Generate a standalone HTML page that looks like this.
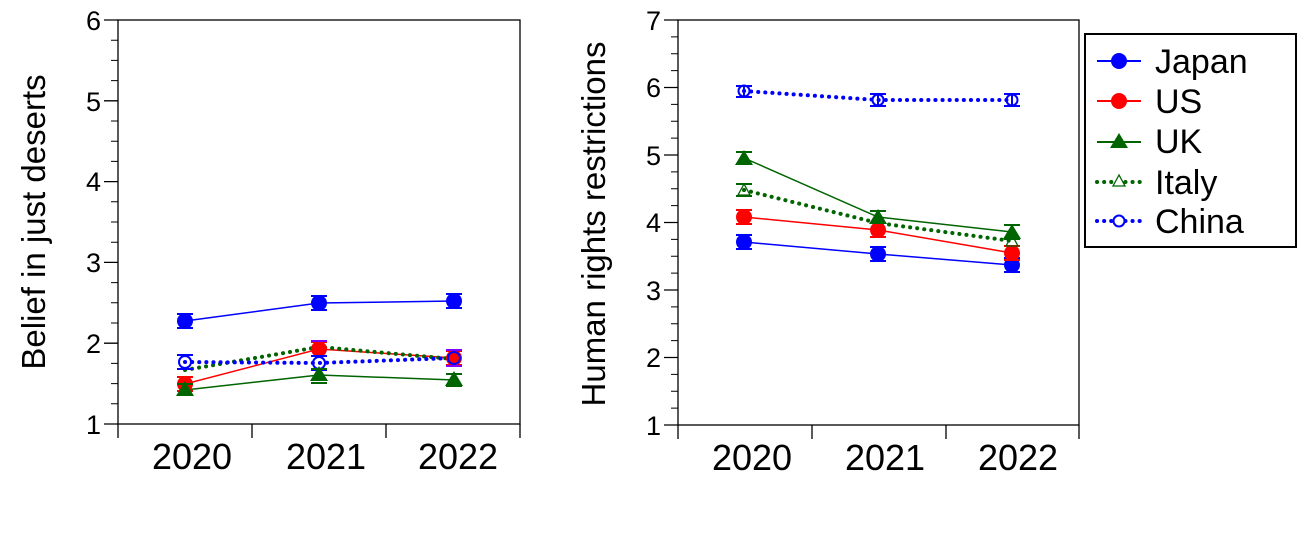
<!DOCTYPE html>
<html><head><meta charset="utf-8"><style>body{margin:0;background:#fff}svg{display:block}text{font-family:"Liberation Sans",sans-serif;fill:#000}</style></head>
<body>
<svg width="1298" height="536" xmlns="http://www.w3.org/2000/svg">
<!-- LEFT PLOT -->
<g stroke="#000" stroke-width="1.3" fill="none">
<rect x="118" y="20" width="402" height="404"/>
<line x1="118" y1="424" x2="118" y2="438"/><line x1="252" y1="424" x2="252" y2="438"/><line x1="386" y1="424" x2="386" y2="438"/><line x1="520" y1="424" x2="520" y2="438"/>
<path d="M104 20H118M104 100.8H118M104 181.6H118M104 262.4H118M104 343.2H118M104 424H118"/>
<path d="M111 40.2H118M111 60.4H118M111 80.6H118M111 121H118M111 141.2H118M111 161.4H118M111 201.8H118M111 222H118M111 242.2H118M111 282.6H118M111 302.8H118M111 323H118M111 363.4H118M111 383.6H118M111 403.8H118" stroke-width="1"/>
</g>
<g font-size="27" text-anchor="end">
<text x="101" y="30">6</text><text x="101" y="111">5</text><text x="101" y="191">4</text><text x="101" y="272">3</text><text x="101" y="353">2</text><text x="101" y="434">1</text>
</g>
<g font-size="36" text-anchor="middle"><text x="192" y="469">2020</text><text x="326" y="469">2021</text><text x="458" y="469">2022</text></g>
<text transform="translate(45,222) rotate(-90)" font-size="33" text-anchor="middle">Belief in just deserts</text>
<g stroke-width="1.5">
<polyline points="185,390 319,375 454,380" fill="none" stroke="#006400"/>
<polyline points="185,384 319,349 454,358" fill="none" stroke="#ff0000"/>
<polyline points="185,370 319,347 454,359" fill="none" stroke="#006400" stroke-width="4" stroke-dasharray="0.1 7" stroke-linecap="round"/>
<polyline points="185,362 319,363 454,358" fill="none" stroke="#0000ff" stroke-width="4" stroke-dasharray="0.1 7" stroke-linecap="round"/>
<polyline points="185,321 319,303 454,301" fill="none" stroke="#0000ff"/>
<g stroke="#0000ff" stroke-width="2"><path d="M177 314H193M177 328H193M185 314V328M311 296H327M311 310H327M319 296V310M446 294H462M446 308H462M454 294V308"/></g>
<circle cx="185" cy="321" r="8" fill="#0000ff"/><circle cx="319" cy="303" r="8" fill="#0000ff"/><circle cx="454" cy="301" r="8" fill="#0000ff"/>
<g stroke="#ff0000" stroke-width="2"><path d="M177 377H193M177 391H193M311 342H327M311 356H327M446 351H462M446 365H462"/></g>
<circle cx="185" cy="384" r="8" fill="#ff0000"/><circle cx="319" cy="349" r="8" fill="#ff0000"/><circle cx="454" cy="358" r="8" fill="#ff0000"/>
<g stroke="#8000ff" stroke-width="2"><path d="M311 341H327M446 350H462M446 366H462"/></g>
<g stroke="#0000ff" stroke-width="2" fill="none"><path d="M177 355H193M177 369H193M311 356H327M311 370H327"/><circle cx="185" cy="362" r="6"/><circle cx="319" cy="363" r="6"/><circle cx="454" cy="358" r="6"/></g>
<g stroke="#006400" stroke-width="2"><path d="M177 384H193M311 369H327M311 383H327M446 374H462M446 386H462"/></g>
<path d="M185 381l-9 15h18zM319 366l-9 15h18zM454 371l-9 15h18z" fill="#006400"/>
</g>
<!-- RIGHT PLOT -->
<g stroke="#000" stroke-width="1.3" fill="none">
<rect x="678" y="20" width="401" height="405"/>
<line x1="678" y1="425" x2="678" y2="439"/><line x1="812" y1="425" x2="812" y2="439"/><line x1="946" y1="425" x2="946" y2="439"/><line x1="1079" y1="425" x2="1079" y2="439"/>
<path d="M664 20H678M664 87.5H678M664 155H678M664 222.5H678M664 290H678M664 357.5H678M664 425H678"/>
<path d="M671 36.9H678M671 53.8H678M671 70.6H678M671 104.4H678M671 121.3H678M671 138.1H678M671 171.9H678M671 188.8H678M671 205.6H678M671 239.4H678M671 256.3H678M671 273.1H678M671 306.9H678M671 323.8H678M671 340.6H678M671 374.4H678M671 391.3H678M671 408.1H678" stroke-width="1"/>
</g>
<g font-size="27" text-anchor="end">
<text x="661" y="30">7</text><text x="661" y="97">6</text><text x="661" y="165">5</text><text x="661" y="232">4</text><text x="661" y="300">3</text><text x="661" y="367">2</text><text x="661" y="435">1</text>
</g>
<g font-size="36" text-anchor="middle"><text x="752" y="470">2020</text><text x="885" y="470">2021</text><text x="1018" y="470">2022</text></g>
<text transform="translate(605,224) rotate(-90)" font-size="33" text-anchor="middle">Human rights restrictions</text>
<g stroke-width="1.5">
<polyline points="744,242 878,254 1012,265" fill="none" stroke="#0000ff"/>
<polyline points="744,217 878,230 1012,253" fill="none" stroke="#ff0000"/>
<polyline points="744,158 878,217 1012,232" fill="none" stroke="#006400"/>
<polyline points="744,190 878,223 1012,241" fill="none" stroke="#006400" stroke-width="4" stroke-dasharray="0.1 7" stroke-linecap="round"/>
<polyline points="744,91 878,100 1012,100" fill="none" stroke="#0000ff" stroke-width="4" stroke-dasharray="0.1 7" stroke-linecap="round"/>
<g stroke="#0000ff" stroke-width="2"><path d="M736 235H752M736 249H752M870 247H886M870 261H886M1004 258H1020M1004 272H1020"/></g>
<circle cx="744" cy="242" r="8" fill="#0000ff"/><circle cx="878" cy="254" r="8" fill="#0000ff"/><circle cx="1012" cy="265" r="8" fill="#0000ff"/>
<g stroke="#ff0000" stroke-width="2"><path d="M736 210H752M736 224H752M870 223H886M870 237H886M1004 246H1020M1004 260H1020"/></g>
<circle cx="744" cy="217" r="8" fill="#ff0000"/><circle cx="878" cy="230" r="8" fill="#ff0000"/><circle cx="1012" cy="253" r="8" fill="#ff0000"/>
<g stroke="#006400" stroke-width="2"><path d="M736 152H752M736 164H752M870 211H886M870 223H886M1004 225H1020M1004 239H1020M736 184H752M736 196H752"/></g>
<path d="M744 150l-9 15h18zM878 209l-9 15h18zM1012 224l-9 15h18z" fill="#006400"/>
<path d="M744 184l-6 11h12zM1012 235l-6 11h12z" fill="none" stroke="#006400" stroke-width="1.3"/>
<g stroke="#0000ff" stroke-width="2" fill="none"><path d="M736 86H752M736 97H752M870 94H886M870 106H886M1004 94H1020M1004 106H1020M744 86V97M878 94V106M1012 94V106"/><circle cx="744" cy="91" r="5.5"/><circle cx="878" cy="100" r="5.5"/><circle cx="1012" cy="100" r="5.5"/></g>
</g>
<!-- LEGEND -->
<rect x="1085" y="34" width="211" height="213" fill="#fff" stroke="#000" stroke-width="2"/>
<g stroke-width="2">
<line x1="1097" y1="61" x2="1141" y2="61" stroke="#0000ff"/><circle cx="1119" cy="61" r="8" fill="#0000ff"/>
<line x1="1097" y1="101" x2="1141" y2="101" stroke="#ff0000"/><circle cx="1119" cy="101" r="8" fill="#ff0000"/>
<line x1="1097" y1="142" x2="1141" y2="142" stroke="#006400"/><path d="M1119 133l-9 15h18z" fill="#006400"/>
<line x1="1097" y1="182" x2="1141" y2="182" stroke="#006400" stroke-width="4" stroke-dasharray="0.1 7" stroke-linecap="round"/><path d="M1119 175l-6 11h12z" fill="#fff" stroke="#006400" stroke-width="1.3"/>
<line x1="1097" y1="221" x2="1141" y2="221" stroke="#0000ff" stroke-width="4" stroke-dasharray="0.1 7" stroke-linecap="round"/><circle cx="1119" cy="221" r="5.5" fill="#fff" stroke="#0000ff"/>
</g>
<g font-size="34"><text x="1155" y="73">Japan</text><text x="1155" y="113">US</text><text x="1155" y="153">UK</text><text x="1155" y="194">Italy</text><text x="1155" y="233">China</text></g>
</svg>
</body></html>
